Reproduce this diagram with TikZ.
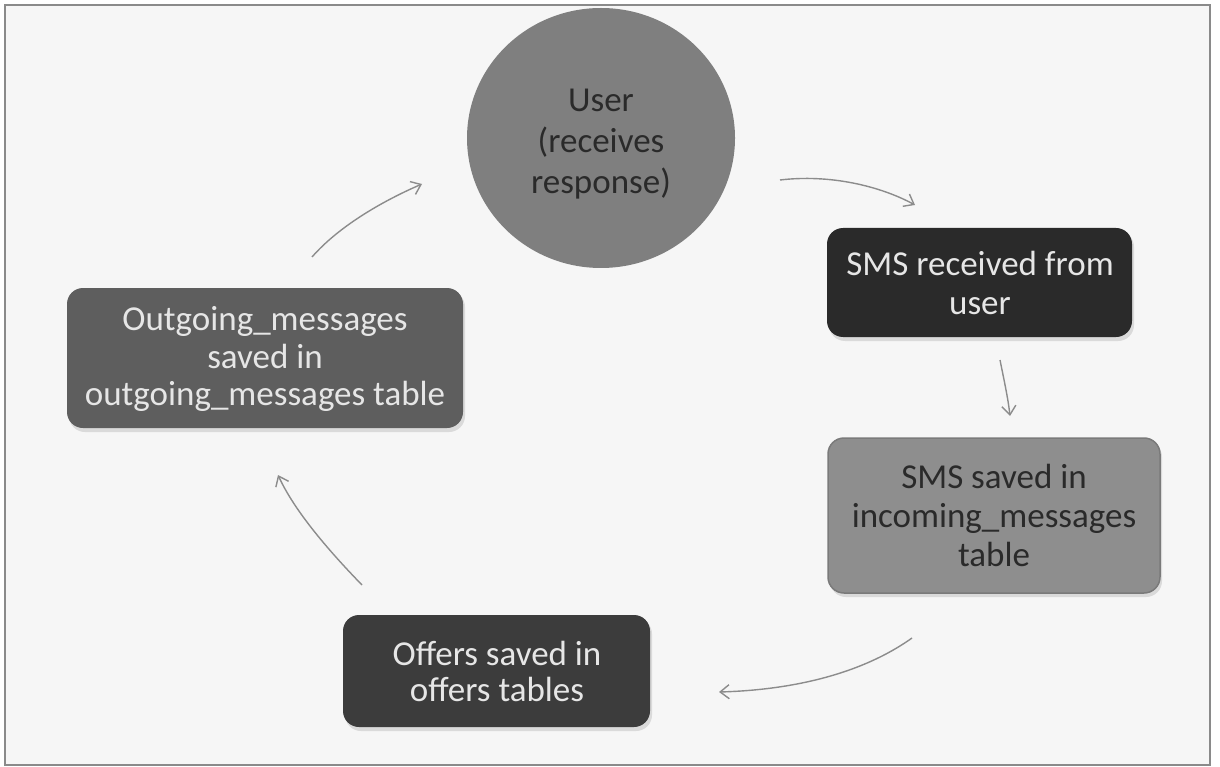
\documentclass[tikz,border=0pt]{standalone}
\usepackage{fontspec}
\setmainfont{Carlito}
\usetikzlibrary{arrows.meta}
\definecolor{framec}{HTML}{8A8A8A}
\definecolor{bgc}{HTML}{F6F6F6}
\definecolor{circc}{HTML}{7F7F7F}
\definecolor{recc}{HTML}{2A2A2A}
\definecolor{savc}{HTML}{8E8E8E}
\definecolor{savb}{HTML}{7A7A7A}
\definecolor{offc}{HTML}{3C3C3C}
\definecolor{outc}{HTML}{5E5E5E}
\definecolor{darktxt}{HTML}{2A2A2A}
\definecolor{lighttxt}{HTML}{E6E6E6}
\definecolor{arrc}{HTML}{8C8C8C}
\definecolor{shadc}{HTML}{DADADA}
\begin{document}
\begin{tikzpicture}[x=1pt,y=-1pt,
  txt/.style={font=\fontsize{35}{39}\selectfont, align=center, inner sep=0pt},
  boxshape/.style={rounded corners=16pt},
  flow/.style={draw=arrc, line width=1.4pt, -{Straight Barb[length=9pt,width=14pt]}},
]
\useasboundingbox (0,0) rectangle (1220,767);
\fill[white] (0,0) rectangle (1220,767);
\draw[framec, line width=2pt, fill=bgc] (5,5) rectangle (1210,765);

% shadows
\fill[shadc, boxshape] (829,231) rectangle (1134,341);
\fill[shadc, boxshape] (830,441) rectangle (1162,597);
\fill[shadc, boxshape] (345,618) rectangle (652,731);
\fill[shadc, boxshape] (69,291) rectangle (465,432);

% shapes
\fill[circc] (601,138) ellipse [x radius=134pt, y radius=130pt];
\fill[recc, boxshape] (827,228) rectangle (1132,337);
\draw[savb, line width=1.5pt, fill=savc, boxshape] (828,438) rectangle (1160,593);
\fill[offc, boxshape] (343,615) rectangle (650,727);
\fill[outc, boxshape] (67,288) rectangle (463,428);

% texts
\node[txt, text=darktxt, font=\fontsize{35}{41}\selectfont] (user) at (601,144) {User\\(receives\\response)};
\node[txt, text=lighttxt] (smsrec) at (980,283) {SMS received from\\user};
\node[txt, text=darktxt] (smssav) at (994,515) {SMS saved in\\incoming\_messages\\table};
\node[txt, text=lighttxt, font=\fontsize{35}{36}\selectfont] (offers) at (497,671) {Offers saved in\\offers tables};
\node[txt, text=lighttxt, font=\fontsize{35}{37.5}\selectfont] (outgo) at (265,359) {Outgoing\_messages\\saved in\\outgoing\_messages table};

% connector ends
\coordinate (a1s) at (780,180); \coordinate (a1e) at (915,205);
\coordinate (a2s) at (1000,360); \coordinate (a2e) at (1010,416);
\coordinate (a3s) at (912,638); \coordinate (a3e) at (719,692);
\coordinate (a4s) at (362,585); \coordinate (a4e) at (278,475);
\coordinate (a5s) at (312,257); \coordinate (a5e) at (422,184);

\draw[flow] (a1s) .. controls (830,174) and (880,186) .. (a1e);
\draw[flow] (a2s) .. controls (1004,380) and (1008,398) .. (a2e);
\draw[flow] (a3s) .. controls (860,675) and (790,690) .. (a3e);
\draw[flow] (a4s) .. controls (330,552) and (295,512) .. (a4e);
\draw[flow] (a5s) .. controls (340,225) and (385,200) .. (a5e);
\end{tikzpicture}
\end{document}
